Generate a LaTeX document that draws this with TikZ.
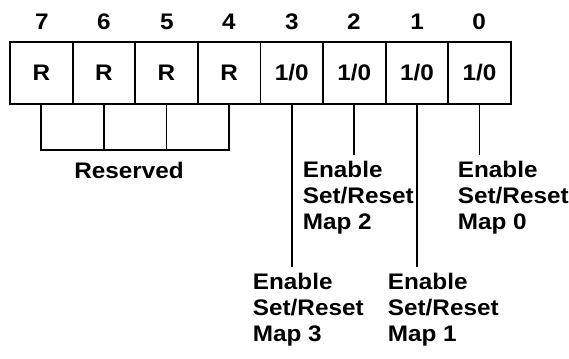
\documentclass[tikz,border=0pt]{standalone}
\usepackage{fontspec}
\setmainfont{Liberation Sans}[FakeStretch=1.08]
\usetikzlibrary{positioning}

\begin{document}
\begin{tikzpicture}[x=1pt, y=-1pt, line width=1.8pt,
        font=\fontsize{22.5}{26}\selectfont\bfseries]
        \tikzset{cell/.style={draw, rectangle, inner sep=0pt,
                 minimum width=62.6pt, minimum height=62pt},
                 bitno/.style={inner sep=0pt},
                 mapname/.style={align=left, anchor=north west,
                 inner xsep=0pt, inner ysep=6pt}}
        \useasboundingbox (0,0) rectangle (569,358);
        %% Registro de 8 bits
        \node[cell] (c7) at (41.3,73)  {R};
        \node[cell] (c6) at (103.9,73) {R};
        \node[cell] (c5) at (166.5,73) {R};
        \node[cell] (c4) at (229.1,73) {R};
        \node[cell] (c3) at (291.7,73) {1/0};
        \node[cell] (c2) at (354.3,73) {1/0};
        \node[cell] (c1) at (416.9,73) {1/0};
        \node[cell] (c0) at (479.5,73) {1/0};
        %% Numeros de bit
        \node[bitno] (n7) at (42,22)  {7};
        \node[bitno] (n6) at (104,22) {6};
        \node[bitno] (n5) at (167,22) {5};
        \node[bitno] (n4) at (229,22) {4};
        \node[bitno] (n3) at (292,22) {3};
        \node[bitno] (n2) at (354,22) {2};
        \node[bitno] (n1) at (417,22) {1};
        \node[bitno] (n0) at (479,22) {0};
        %% Bits reservados
        \coordinate (rbot) at (0,150);
        \node (rsv) at (129,170) {Reserved};
        \draw (c7.south) -- (c7.south |- rbot) -- (c4.south |- rbot) -- (c4.south);
        \draw (c6.south) -- (c6.south |- rbot);
        \draw (c5.south) -- (c5.south |- rbot);
        %% Mapas Set/Reset
        \node[mapname] (m2) at (302,154.5) {Enable\\Set/Reset\\Map 2};
        \node[mapname] (m0) at (457,154.5) {Enable\\Set/Reset\\Map 0};
        \node[mapname] (m3) at (252,266.5) {Enable\\Set/Reset\\Map 3};
        \node[mapname] (m1) at (387,266.5) {Enable\\Set/Reset\\Map 1};
        \draw (c3.south) -- (c3.south |- m3.north);
        \draw (c2.south) -- (c2.south |- m2.north);
        \draw (c1.south) -- (c1.south |- m1.north);
        \draw (c0.south) -- (c0.south |- m0.north);
    \end{tikzpicture}
\end{document}
